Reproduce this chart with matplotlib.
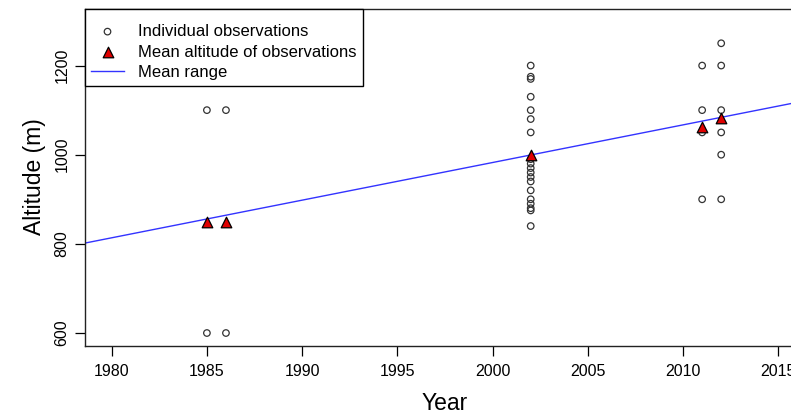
import matplotlib
matplotlib.use("Agg")
import matplotlib.pyplot as plt
import numpy as np

plt.rcParams['font.family'] = ['Liberation Sans', 'DejaVu Sans']

# ---- data ----
obs_years = [1985, 1985, 1986, 1986,
             2002, 2002, 2002, 2002, 2002, 2002, 2002, 2002, 2002, 2002,
             2002, 2002, 2002, 2002, 2002, 2002, 2002, 2002, 2002,
             2011, 2011, 2011, 2011,
             2012, 2012, 2012, 2012, 2012, 2012]
obs_alt = [600, 1100, 600, 1100,
           1200, 1175, 1170, 1130, 1100, 1080, 1050,
           990, 980, 970, 960, 950, 940, 920, 900, 890, 880, 875, 840,
           1200, 1100, 1050, 900,
           1250, 1200, 1100, 1050, 1000, 900]
trend_alt_2000 = 982.5
trend_slope = 8.445
x_ticks = [1980, 1985, 1990, 1995, 2000, 2005, 2010, 2015]
y_ticks = [600, 800, 1000, 1200]

obs_years = np.array(obs_years)
obs_alt = np.array(obs_alt, dtype=float)
mean_years = np.unique(obs_years)
mean_alt = np.array([obs_alt[obs_years == y].mean() for y in mean_years])

fig = plt.figure(figsize=(7.91, 4.15), dpi=100)
ax = fig.add_axes([85/791, 1 - 345.5/415, 720/791, 337/415])

ax.scatter(obs_years, obs_alt, s=22, facecolors='none', edgecolors='#333333',
           linewidths=0.9, zorder=3, label='Individual observations')
ax.scatter(mean_years, mean_alt, marker='^', s=58, facecolors='#e00000',
           edgecolors='black', linewidths=0.9, zorder=4,
           label='Mean altitude of observations')
ax.axline((2000, trend_alt_2000), slope=trend_slope, color='#3333ff',
          linewidth=1.0, zorder=2, label='Mean range')

ax.set_xlim(1978.6, 2016.4)
ax.set_ylim(572, 1328)
ax.set_xticks(x_ticks)
ax.set_yticks(y_ticks)
ax.tick_params(direction='out', length=7, width=0.9, labelsize=11.5,
               colors='black')
ax.tick_params(axis='x', pad=6)
ax.tick_params(axis='y', pad=4)
for lab in ax.get_yticklabels():
    lab.set_rotation(90)
    lab.set_va('center')
for sp in ax.spines.values():
    sp.set_linewidth(1.0)
    sp.set_color('#222222')

ax.set_xlabel('Year', fontsize=16.5, labelpad=10)
ax.set_ylabel('Altitude (m)', fontsize=16.5, labelpad=6)

leg = ax.legend(loc='upper left', borderaxespad=0, fancybox=False,
                edgecolor='black', framealpha=1, fontsize=12,
                handlelength=2.0, handletextpad=0.85, borderpad=0.35,
                labelspacing=0.34, title=' ', title_fontsize=2)
leg.get_frame().set_linewidth(1.0)

fig.savefig('out.png', dpi=100)
